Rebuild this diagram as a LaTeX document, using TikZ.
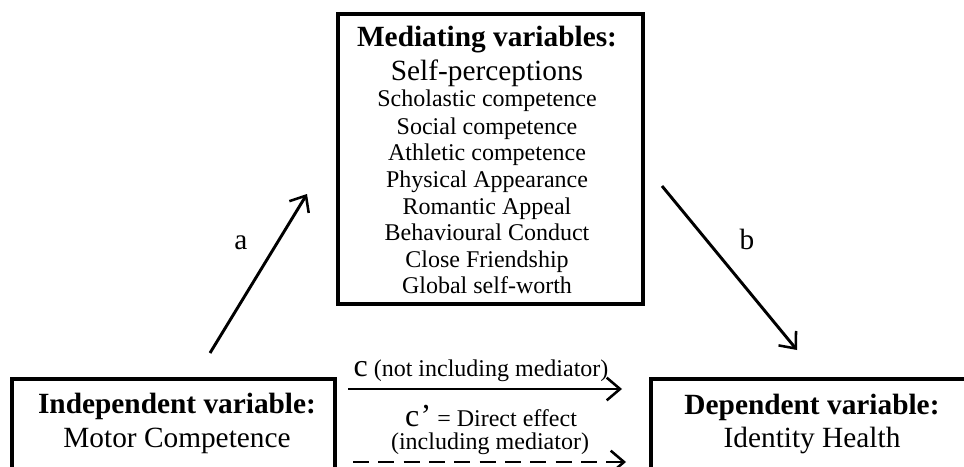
\documentclass[tikz,border=0pt]{standalone}
\usepackage{fontspec}
\setmainfont{Liberation Serif}
\usetikzlibrary{arrows.meta}
\begin{document}
\begin{tikzpicture}[x=0.75pt,y=-0.75pt,
  frame/.style={draw,line width=2.7pt,fill=white,inner sep=0pt,anchor=north west},
  head/.style={font=\fontsize{22}{26}\selectfont\bfseries,anchor=base,inner sep=0pt},
  sub/.style={font=\fontsize{22}{26}\selectfont,anchor=base,inner sep=0pt},
  item/.style={font=\fontsize{18}{20}\selectfont,anchor=base,inner sep=0pt},
  path/.style={line width=2.2pt,-{Straight Barb[length=10pt,width=17pt,line width=1.9pt]}}]
\useasboundingbox (0,0) rectangle (964,467);
\clip (0,0) rectangle (964,467);

% boxes
\node[frame,minimum width=228.75pt,minimum height=217.5pt] (med) at (336,12) {};
\node[frame,minimum width=242.25pt,minimum height=92pt] (ind) at (10,377) {};
\node[frame,minimum width=255.75pt,minimum height=92pt] (dep) at (649,377) {};

% mediating variables
\node[head] (medh) at (487,47) {Mediating variables:};
\node[sub]  (meds) at (487,80) {Self-perceptions};
\node[item] (m1) at (487,107) {Scholastic competence};
\node[item] (m2) at (487,134) {Social competence};
\node[item] (m3) at (487,160) {Athletic competence};
\node[item] (m4) at (487,187) {Physical Appearance};
\node[item] (m5) at (487,214) {Romantic Appeal};
\node[item] (m6) at (487,240) {Behavioural Conduct};
\node[item] (m7) at (487,267) {Close Friendship};
\node[item] (m8) at (487,293) {Global self-worth};

% independent / dependent variables
\node[head] (indh) at (177,413) {Independent variable:};
\node[sub]  (inds) at (177,447) {Motor Competence};
\node[head] (deph) at (812,414) {Dependent variable:};
\node[sub]  (deps) at (812,447) {Identity Health};

% indirect paths
\coordinate (a0) at (210,353);
\coordinate (a1) at (307,194);
\coordinate (b0) at (662,186);
\coordinate (b1) at (797,350);
\draw[path] (a0) -- (a1);
\draw[path] (b0) -- (b1);
\node[sub] (la) at (241,249) {a};
\node[sub] (lb) at (747,249) {b};

% total and direct effect
\coordinate (c0) at (348,389);
\coordinate (c1) at (622,389);
\coordinate (d0) at (353,462);
\coordinate (d1) at (626,462);
\draw[path] (c0) -- (c1);
\draw[path,dash pattern=on 12pt off 7pt] (d0) -- (d1);
\node[item] (lc) at (481,376) {{\fontsize{24}{24}\selectfont c} (not including mediator)};
\node[item] (ld) at (491,426) {{\fontsize{24}{24}\selectfont c\kern1pt’} = Direct effect};
\node[item] (le) at (490,449) {(including mediator)};
\end{tikzpicture}
\end{document}
